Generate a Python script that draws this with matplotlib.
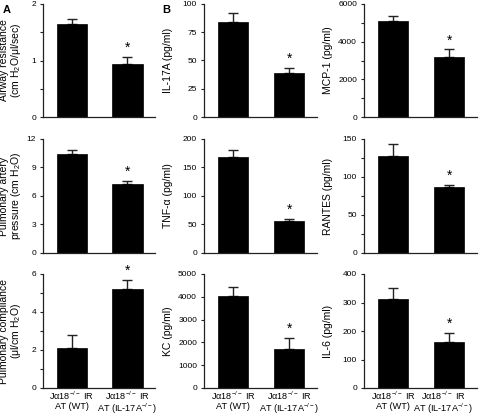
import matplotlib
matplotlib.use("Agg")
import matplotlib.pyplot as plt
import matplotlib.transforms as mtransforms

plt.rcParams['font.family'] = ['Liberation Sans', 'DejaVu Sans']
plt.rcParams['mathtext.fontset'] = 'custom'
plt.rcParams['mathtext.rm'] = 'Liberation Sans'
plt.rcParams['mathtext.it'] = 'Liberation Sans:italic'
plt.rcParams['mathtext.bf'] = 'Liberation Sans:bold'

# ---------------- data ----------------
categories = ['J\u03b118$^{-/-}$ IR\nAT (WT)', 'J\u03b118$^{-/-}$ IR\nAT (IL-17A$^{-/-}$)']

airway_vals = [1.65, 0.94]
airway_err = [0.08, 0.12]
il17a_vals = [84.5, 39.3]
il17a_err = [7.2, 4.2]
mcp1_vals = [5090, 3210]
mcp1_err = [270, 380]
pap_vals = [10.45, 7.3]
pap_err = [0.4, 0.3]
tnf_vals = [168, 56]
tnf_err = [13, 3.5]
rantes_vals = [128, 87]
rantes_err = [15, 3]
compl_vals = [2.12, 5.2]
compl_err = [0.67, 0.47]
kc_vals = [4040, 1730]
kc_err = [410, 480]
il6_vals = [312, 160]
il6_err = [39, 34]

airway_ticks = [0, 0.5, 1, 1.5, 2]
airway_ticklabels = ['0', '', '1', '', '2']
il17a_ticks = [0, 25, 50, 75, 100]
il17a_ticklabels = ['0', '25', '50', '75', '100']
mcp1_ticks = [0, 1000, 2000, 3000, 4000, 5000, 6000]
mcp1_ticklabels = ['0', '', '2000', '', '4000', '', '6000']
pap_ticks = [0, 3, 6, 9, 12]
pap_ticklabels = ['0', '3', '6', '9', '12']
tnf_ticks = [0, 50, 100, 150, 200]
tnf_ticklabels = ['0', '50', '100', '150', '200']
rantes_ticks = [0, 25, 50, 75, 100, 125, 150]
rantes_ticklabels = ['0', '', '50', '', '100', '', '150']
compl_ticks = [0, 1, 2, 3, 4, 5, 6]
compl_ticklabels = ['0', '', '2', '', '4', '', '6']
kc_ticks = [0, 1000, 2000, 3000, 4000, 5000]
kc_ticklabels = ['0', '1000', '2000', '3000', '4000', '5000']
il6_ticks = [0, 100, 200, 300, 400]
il6_ticklabels = ['0', '100', '200', '300', '400']

significant = [False, True]  # star over second bar

panels = [
    # (row, col, values, errors, ticks, ticklabels, ylabel)
    (0, 0, airway_vals, airway_err, airway_ticks, airway_ticklabels,
     'Airway resistance\n(cm H$_2$O/\u03bcl/sec)'),
    (0, 1, il17a_vals, il17a_err, il17a_ticks, il17a_ticklabels, 'IL-17A (pg/ml)'),
    (0, 2, mcp1_vals, mcp1_err, mcp1_ticks, mcp1_ticklabels, 'MCP-1 (pg/ml)'),
    (1, 0, pap_vals, pap_err, pap_ticks, pap_ticklabels,
     'Pulmonary artery\npressure (cm H$_2$O)'),
    (1, 1, tnf_vals, tnf_err, tnf_ticks, tnf_ticklabels, 'TNF-\u03b1 (pg/ml)'),
    (1, 2, rantes_vals, rantes_err, rantes_ticks, rantes_ticklabels, 'RANTES (pg/ml)'),
    (2, 0, compl_vals, compl_err, compl_ticks, compl_ticklabels,
     'Pulmonary compliance\n(\u03bcl/cm H$_2$O)'),
    (2, 1, kc_vals, kc_err, kc_ticks, kc_ticklabels, 'KC (pg/ml)'),
    (2, 2, il6_vals, il6_err, il6_ticks, il6_ticklabels, 'IL-6 (pg/ml)'),
]

# ---------------- layout ----------------
W, H = 480, 416
fig = plt.figure(figsize=(W / 100, H / 100), dpi=100)

col_px = [(43, 155), (204, 317), (364, 477)]
row_px = [(4, 117), (139, 253), (274, 388)]
label_x = [-0.18, -0.27, -0.27]

spine_col = '#222222'
x = [0, 1]

for (r, c, vals, errs, ticks, tlabels, ylabel) in panels:
    x0, x1 = col_px[c]
    y0, y1 = row_px[r]
    ax = fig.add_axes([x0 / W, 1 - y1 / H, (x1 - x0) / W, (y1 - y0) / H])
    ax.bar(x, vals, width=0.55, color='black', edgecolor='black', linewidth=0.5, zorder=2)
    ax.errorbar(x, vals, yerr=[[0, 0], errs], fmt='none', ecolor='#222222',
                elinewidth=1.0, capsize=3.5, capthick=1.0, zorder=1)
    ymax = ticks[-1]
    ax.set_ylim(0, ymax)
    ax.set_xlim(-0.52, 1.5)
    ax.set_yticks(ticks)
    ax.set_yticklabels(tlabels)
    ax.tick_params(axis='y', direction='out', length=2.5, width=0.8, pad=2.5,
                   labelsize=6, color=spine_col)
    for s in ['top', 'right']:
        ax.spines[s].set_visible(False)
    for s in ['left', 'bottom']:
        ax.spines[s].set_linewidth(0.9)
        ax.spines[s].set_color(spine_col)
    ax.set_xticks(x)
    if r == 2:
        ax.tick_params(axis='x', length=0, pad=1.5)
        ax.set_xticklabels(categories, fontsize=6.6, linespacing=0.88)
        if c == 2:
            lab = ax.xaxis.get_majorticklabels()[1]
            lab.set_transform(lab.get_transform() +
                              mtransforms.ScaledTranslation(-0.06, 0, fig.dpi_scale_trans))
    else:
        ax.set_xticklabels(['', ''])
        ax.tick_params(axis='x', length=0)
    ax.set_ylabel(ylabel, fontsize=7.5, linespacing=0.95)
    ax.yaxis.set_label_coords(label_x[c], 0.5)
    for xi, v, e, sig in zip(x, vals, errs, significant):
        if sig:
            ax.text(xi, v + e + 0.08 * ymax, '*', ha='center', va='center',
                    fontsize=10, clip_on=False)

fig.text(3 / W, 1 - 13 / H, 'A', fontsize=8, fontweight='bold')
fig.text(162 / W, 1 - 13 / H, 'B', fontsize=8, fontweight='bold')

fig.savefig('out.png', dpi=100)
